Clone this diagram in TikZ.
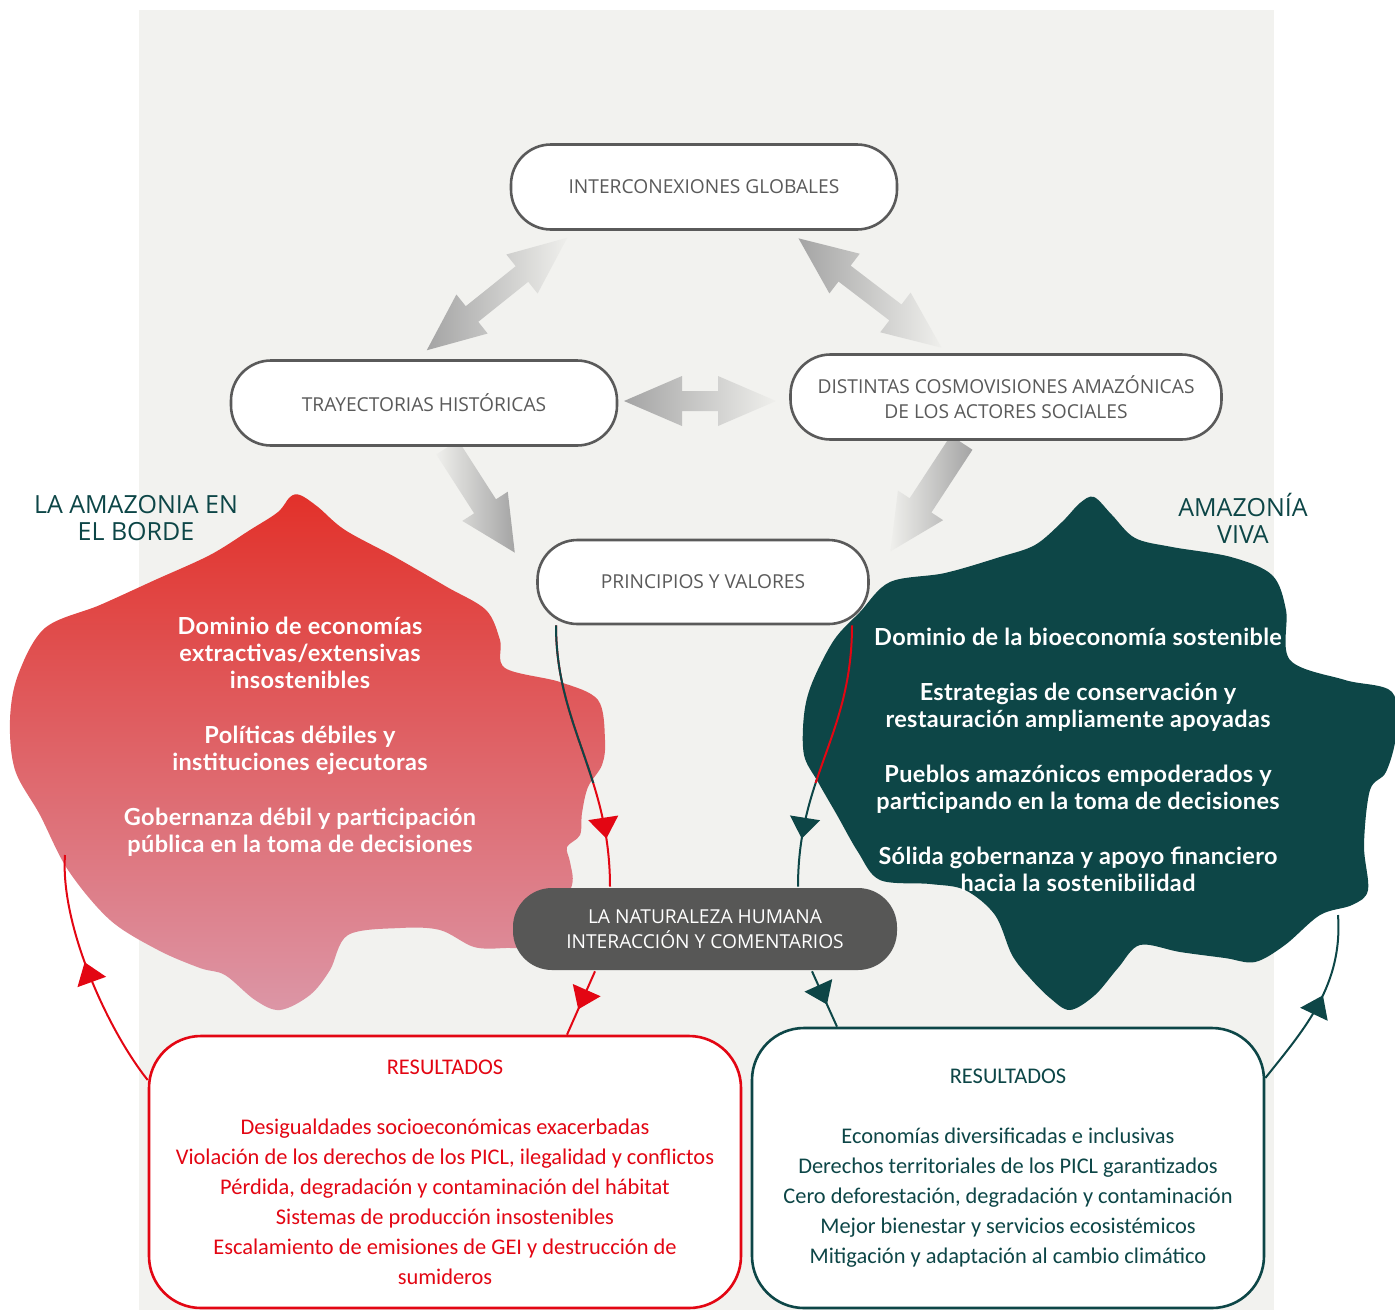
\documentclass[tikz,border=0pt]{standalone}
\usepackage{fontspec}
\setmainfont{Open Sans}
\newfontfamily\blobfont{Lato}[LetterSpace=1.5]
\newfontfamily\resfont{Carlito}
\usetikzlibrary{arrows.meta,calc,decorations.markings}

\definecolor{bgc}{HTML}{F2F2EF}
\definecolor{boxline}{HTML}{5A5A5A}
\definecolor{humfill}{HTML}{575756}
\definecolor{redc}{HTML}{E30613}
\definecolor{tealc}{HTML}{0D4647}
\definecolor{redtop}{HTML}{E2312A}
\definecolor{redmid}{HTML}{E05B58}
\definecolor{redbot}{HTML}{DC96A6}
\definecolor{arrdark}{HTML}{A4A4A4}
\definecolor{arrlight}{HTML}{EFEFEC}

% outlines of the two blobs (image coordinates)
\newcommand{\redblob}{plot[smooth cycle, tension=0.55] coordinates {
  (300,495) (318,507) (345,530) (395,557) (447,587) (486,610) (500,640) (505,668)
  (560,682) (598,700) (605,740) (602,765) (588,787) (582,813) (580,835) (567,847)
  (570,862) (572,885) (555,920) (530,945) (505,948) (474,947) (440,930) (400,928)
  (348,935) (330,970) (310,995) (280,1010) (255,1000) (225,975) (200,968) (158,950)
  (110,920) (68,870) (40,815) (15,770) (10,720) (18,675) (45,628) (100,605)
  (155,580) (210,555) (250,530) (278,512) (290,497)}}
\newcommand{\tealblob}{plot[smooth cycle, tension=0.55] coordinates {
  (1094,497) (1112,515) (1135,538) (1172,547) (1231,557) (1272,575) (1286,610)
  (1290,660) (1345,680) (1392,692) (1396,735) (1386,772) (1370,790) (1364,845)
  (1368,890) (1352,905) (1320,915) (1285,945) (1255,962) (1225,958) (1180,952)
  (1140,945) (1118,968) (1095,995) (1070,1010) (1050,998) (1030,978) (1012,955)
  (995,915) (965,890) (930,884) (880,880) (858,852) (837,815) (818,782) (804,755)
  (804,715) (812,683) (834,640) (860,612) (890,582) (945,573) (1000,557) (1035,545)
  (1062,522) (1080,503)}}

\begin{document}
\begin{tikzpicture}[x=1pt, y=-1pt,
  font=\fontsize{19.2}{25}\selectfont,
  pill/.style={draw=boxline, line width=2.6pt, rounded corners=40pt, fill=white, text=boxline, align=center, minimum height=85pt},
  res/.style={line width=2.6pt, rounded corners=52pt, fill=white, align=center, font=\resfont\fontsize{22.4}{30}\selectfont},
  blobtxt/.style={text=white, align=center, font=\blobfont\bfseries\fontsize{23.5}{27}\selectfont},
  side/.style={text=tealc, align=center, font=\fontsize{25}{27}\selectfont},
  loop/.style={line width=2pt},
  midarr/.style={postaction={decorate}, decoration={markings, mark=at position #1 with {\arrow{Triangle[width=30pt,length=21pt]}}}},
  dblarr/.pic={\shade[left color=arrdark, right color=arrlight]
    ({-#1/2},0) -- ({-#1/2+58},-25) -- ({-#1/2+58},-10) -- ({#1/2-58},-10) -- ({#1/2-58},-25) -- ({#1/2},0)
    -- ({#1/2-58},25) -- ({#1/2-58},10) -- ({-#1/2+58},10) -- ({-#1/2+58},25) -- cycle;},
  sglarr/.pic={\shade[left color=arrlight, right color=arrdark]
    ({-#1/2},-13) -- ({#1/2-55},-13) -- ({#1/2-55},-27) -- ({#1/2},0) -- ({#1/2-55},27) -- ({#1/2-55},13) -- ({-#1/2},13) -- cycle;},
]
\useasboundingbox (0,0) rectangle (1395,1310);
\fill[bgc] (139,10) rectangle (1274,1310);

% gray block arrows
\pic[rotate=-141.3] at (497,294) {dblarr=180};
\pic[rotate=-37.4] at (870,293) {dblarr=180};
\pic at (700,401) {dblarr=152};
\pic[rotate=-57.3] at (481,500) {sglarr=125};
\pic[rotate=-123.2] at (926,497) {sglarr=130};

% blobs
\shade[top color=redtop, middle color=redmid, bottom color=redbot] \redblob;
\fill[tealc] \tealblob;

% boxes
\node[pill, minimum width=386pt] (glob) at (704,187) {INTERCONEXIONES GLOBALES};
\node[pill, minimum width=386pt] (tray) at (424,403) {TRAYECTORIAS HISTÓRICAS};
\node[pill, minimum width=431pt] (cosmo) at (1006,397) {DISTINTAS COSMOVISIONES AMAZÓNICAS\\DE LOS ACTORES SOCIALES};
\node[pill, minimum width=331pt, minimum height=84pt] (pv) at (703,582) {PRINCIPIOS Y VALORES};
\node[pill, draw=none, fill=humfill, text=white, rounded corners=39pt, minimum width=384pt, minimum height=82pt] (hum) at (705,929) {LA NATURALEZA HUMANA\\INTERACCIÓN Y COMENTARIOS};

\node[res, draw=redc, text=redc, minimum width=592pt, minimum height=272pt] (resL) at (445,1172) {RESULTADOS\\[30pt]
  Desigualdades socioeconómicas exacerbadas\\
  Violación de los derechos de los PICL, ilegalidad y conflictos\\
  Pérdida, degradación y contaminación del hábitat\\
  Sistemas de producción insostenibles\\
  Escalamiento de emisiones de GEI y destrucción de\\
  sumideros};
\node[res, draw=tealc, text=tealc, minimum width=512pt, minimum height=280pt] (resR) at (1008,1168) {RESULTADOS\\[30pt]
  Economías diversificadas e inclusivas\\
  Derechos territoriales de los PICL garantizados\\
  Cero deforestación, degradación y contaminación\\
  Mejor bienestar y servicios ecosistémicos\\
  Mitigación y adaptación al cambio climático};

% titles and blob texts
\node[side] (borde) at (136,518) {LA AMAZONIA EN\\EL BORDE};
\node[side] (viva) at (1243,518) {AMAZONÍA\\VIVA};
\node[blobtxt] (redtxt) at (300,737) {Dominio de economías\\extractivas/extensivas\\insostenibles\\[28pt]
  Políticas débiles y\\instituciones ejecutoras\\[28pt]
  Gobernanza débil y participación\\pública en la toma de decisiones};
\node[blobtxt] (tealtxt) at (1078,760) {Dominio de la bioeconomía sostenible\\[28pt]
  Estrategias de conservación y\\restauración ampliamente apoyadas\\[28pt]
  Pueblos amazónicos empoderados y\\participando en la toma de decisiones\\[28pt]
  Sólida gobernanza y apoyo financiero\\hacia la sostenibilidad};

% feedback loops
\coordinate (redend) at (65,855);
\coordinate (tealend) at (1338,915);
\draw[redc, loop, midarr=0.82] ([xshift=-147pt]pv.south) .. controls +(0,100) and +(0,-110) .. ([xshift=-95pt]hum.north);
\begin{scope}
  \clip (540,600) rectangle (640,782);
  \draw[tealc, loop] ([xshift=-147pt]pv.south) .. controls +(0,100) and +(0,-110) .. ([xshift=-95pt]hum.north);
\end{scope}
\draw[tealc, loop, midarr=0.82] ([xshift=149pt]pv.south) .. controls +(0,110) and +(0,-110) .. ([xshift=93pt]hum.north);
\begin{scope}
  \clip (780,600) rectangle (870,782);
  \draw[redc, loop] ([xshift=149pt]pv.south) .. controls +(0,110) and +(0,-110) .. ([xshift=93pt]hum.north);
\end{scope}
\draw[redc, loop, midarr=0.6] ([xshift=-110pt]hum.south) -- ([xshift=122pt]resL.north);
\draw[tealc, loop, midarr=0.6] ([xshift=107pt]hum.south) -- ([xshift=-171pt]resR.north);
\draw[redc, loop, midarr=0.55] ([yshift=92pt]resL.west) .. controls +(-40,-50) and +(-5,70) .. (redend);
\draw[tealc, loop, midarr=0.55] ([yshift=90pt]resR.east) .. controls +(40,-50) and +(5,70) .. (tealend);
\end{tikzpicture}
\end{document}
